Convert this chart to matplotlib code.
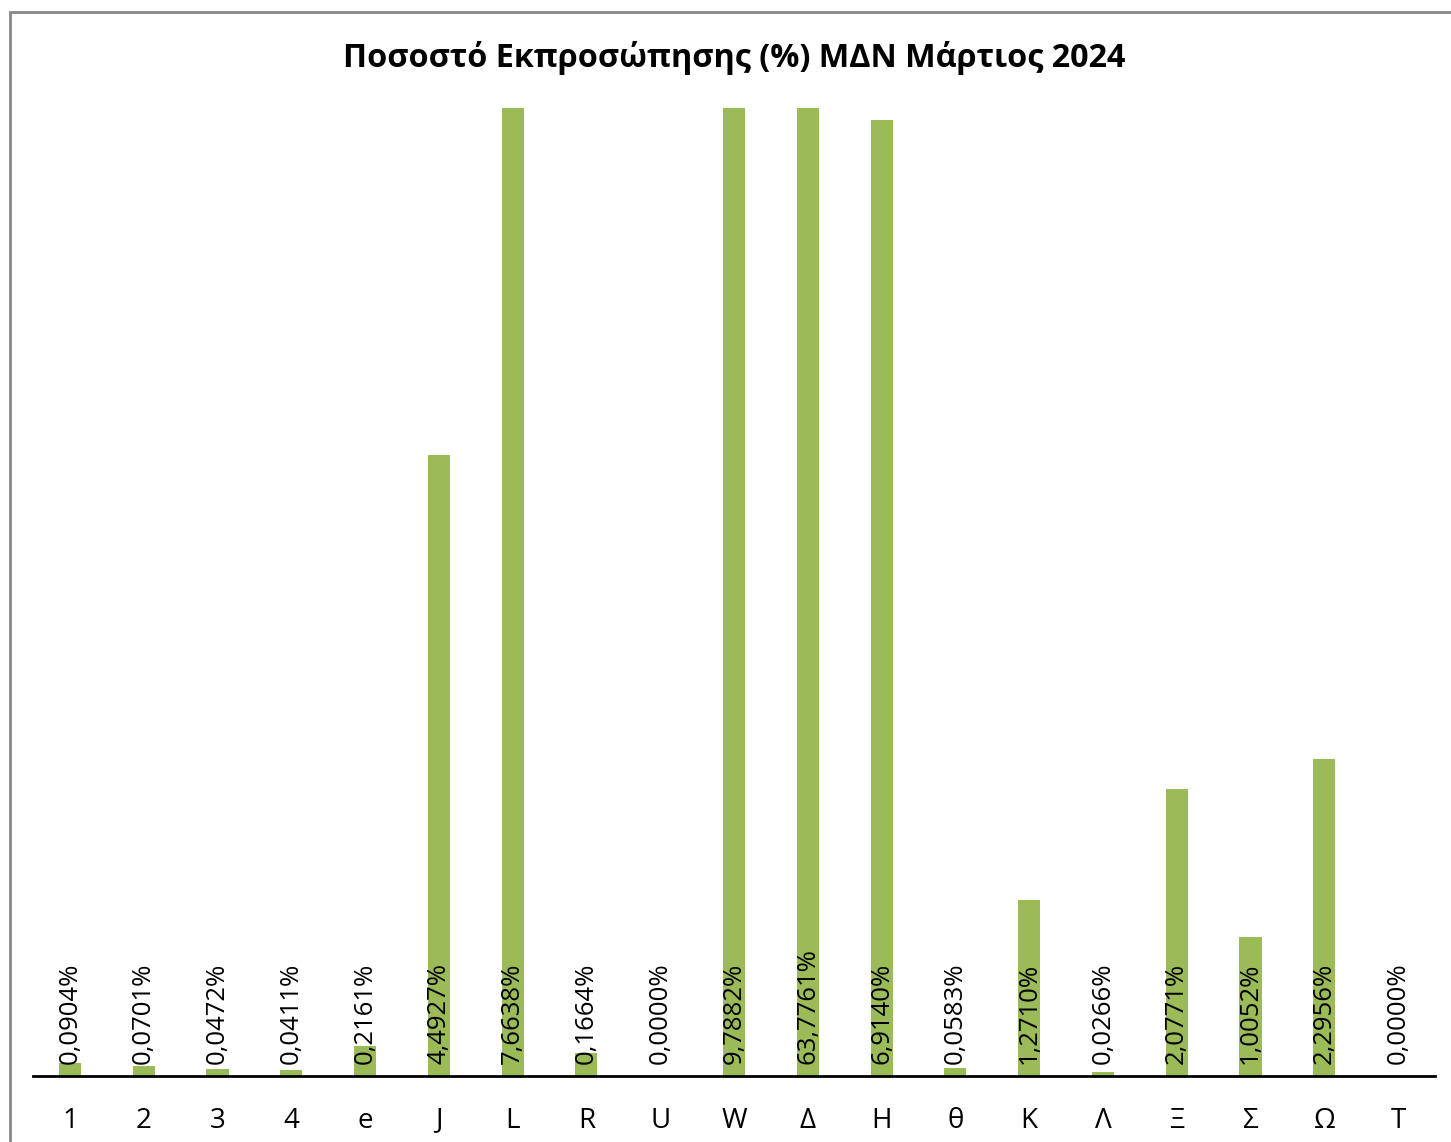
import matplotlib
matplotlib.use("Agg")
import matplotlib.pyplot as plt
from matplotlib.patches import Rectangle

# data (percent)
categories = ["1", "2", "3", "4", "e", "J", "L", "R", "U", "W", "Δ", "Η",
              "θ", "Κ", "Λ", "Ξ", "Σ", "Ω", "T"]
values = [0.0904, 0.0701, 0.0472, 0.0411, 0.2161, 4.4927, 7.6638, 0.1664,
          0.0000, 9.7882, 63.7761, 6.9140, 0.0583, 1.2710, 0.0266, 2.0771,
          1.0052, 2.2956, 0.0000]
title = "Ποσοστό Εκπροσώπησης (%) ΜΔΝ Μάρτιος 2024"

plt.rcParams['font.family'] = ['Open Sans', 'DejaVu Sans']

W, H = 1451, 1142
fig = plt.figure(figsize=(W / 100, H / 100), dpi=100)
ax = fig.add_axes([33 / W, 1 - 1076 / H, (1435 - 33) / W, (1076 - 108) / H])

x = list(range(len(categories)))
ax.bar(x, values, width=0.3, color="#9BBB59")
ax.set_xlim(-0.5, len(categories) - 0.5)
ax.set_ylim(0, 7.0)

for xi, v in zip(x, values):
    label = f"{v:.4f}%".replace(".", ",")
    ax.annotate(label, (xi, 0), xytext=(0, 9), textcoords="offset points",
                rotation=90, ha="center", va="bottom", fontsize=18.5,
                color="black", annotation_clip=False)

ax.set_xticks(x)
ax.set_xticklabels(categories, fontsize=20)
ax.tick_params(axis="x", length=0, pad=22)
ax.set_yticks([])
for side in ["left", "right", "top"]:
    ax.spines[side].set_visible(False)
ax.spines["bottom"].set_linewidth(2)
ax.spines["bottom"].set_color("black")

fig.text(734 / W, 1 - 58 / H, title, ha="center", va="center",
         fontsize=23.3, fontweight="bold")

# outer chart frame (only left and top visible in the reference)
fig.patches.append(Rectangle((9.5 / W, -0.1), 1.2, 1 - 12 / H + 0.1,
                             transform=fig.transFigure, fill=False,
                             edgecolor="#878787", linewidth=2))

fig.savefig("out.png", dpi=100)
